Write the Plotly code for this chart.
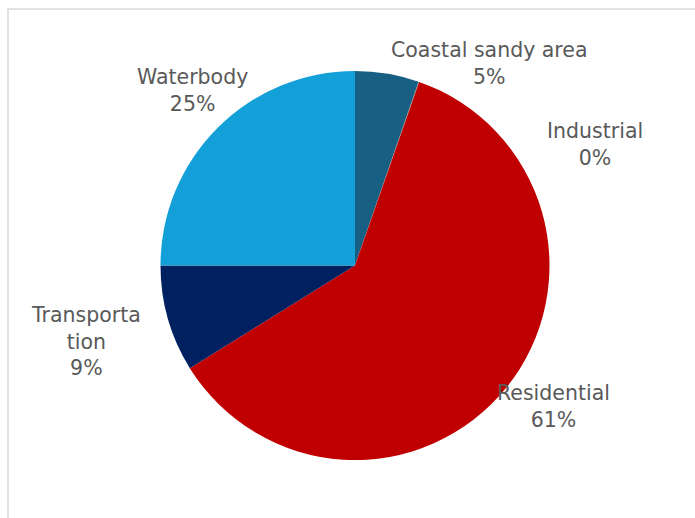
import plotly.graph_objects as go

# Land-use shares (percent of total area)
categories = ["Coastal sandy area", "Industrial", "Residential", "Transportation", "Waterbody"]
values = [5.3, 0.05, 60.8, 8.85, 25.0]
display_labels = ["Coastal sandy area", "Industrial", "Residential", "Transporta<br>tion", "Waterbody"]
colors = ["#185F84", "#7F7F7F", "#C00000", "#002060", "#139FD7"]

W, H = 695, 518
cx, cy, r = 355, 265.5, 194.5

# label block centres in pixels
label_pos = [(489, 64), (595, 144.5), (553, 406), (86, 341), (192, 91)]

fig = go.Figure(
    go.Pie(
        labels=categories,
        values=values,
        sort=False,
        direction="clockwise",
        rotation=0,
        marker=dict(colors=colors, line=dict(width=0)),
        textinfo="none",
        showlegend=False,
        domain=dict(
            x=[(cx - r) / W, (cx + r) / W],
            y=[(H - cy - r) / H, (H - cy + r) / H],
        ),
    )
)

total = sum(values)
for lab, v, (px, py) in zip(display_labels, values, label_pos):
    fig.add_annotation(
        x=px / W, y=1 - py / H, xref="paper", yref="paper",
        text=f"{lab}<br>{round(100 * v / total)}%",
        showarrow=False, xanchor="center", yanchor="middle", align="center",
        font=dict(family="DejaVu Sans", size=20.5, color="#595959"),
    )

# chart-area border
fig.add_shape(
    type="rect", xref="paper", yref="paper",
    x0=8 / W, x1=1.05, y0=-0.05, y1=1 - 9 / H,
    line=dict(color="#D9D9D9", width=1.5), fillcolor="rgba(0,0,0,0)",
)

fig.update_layout(
    width=W, height=H,
    margin=dict(l=0, r=0, t=0, b=0),
    paper_bgcolor="white", plot_bgcolor="white",
)

fig.write_html("out.html")
